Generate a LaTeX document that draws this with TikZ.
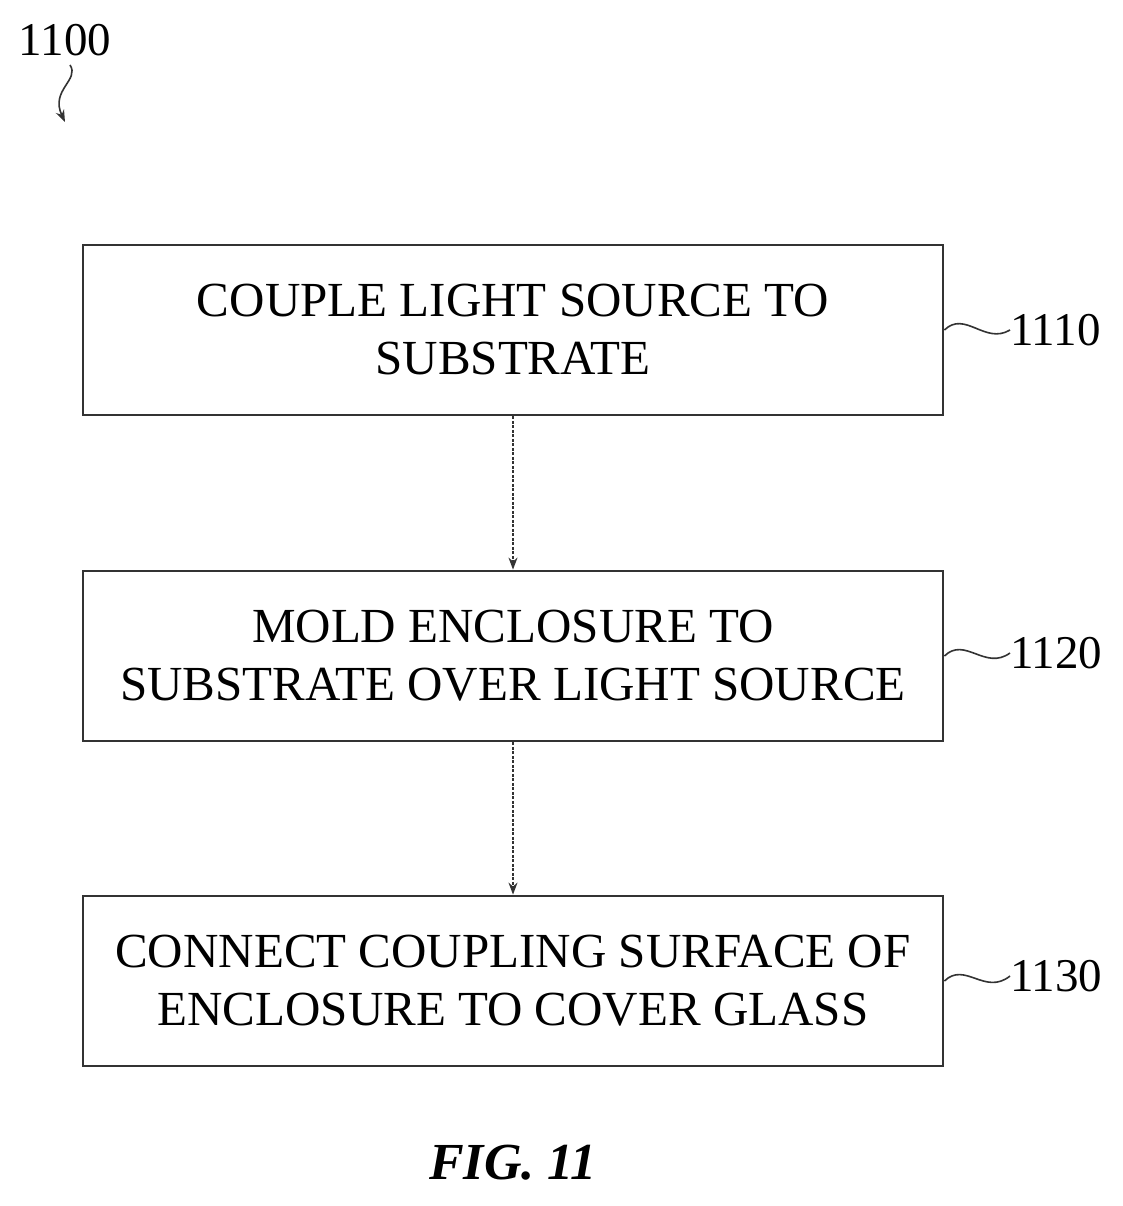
\documentclass[tikz,border=0pt]{standalone}
\usepackage{fontspec}
\setmainfont{Liberation Serif}
\usetikzlibrary{arrows.meta,decorations.pathmorphing}
\begin{document}
\begin{tikzpicture}[x=1pt,y=-1pt,
  stepbox/.style={draw=black!80,line width=2.8pt,minimum width=860pt,minimum height=170pt,inner sep=0pt,align=center,font=\fontsize{49}{58}\selectfont},
  conn/.style={draw=black!80,line width=1.6pt,dashed,dash pattern=on 3pt off 1.5pt,-{Stealth[length=12pt,width=9pt]}},
  lbl/.style={font=\fontsize{47}{50}\selectfont,anchor=west,inner sep=0pt},
  sq/.style={draw=black!80,line width=1.6pt}]
\useasboundingbox (0,0) rectangle (1123,1206);
\node[stepbox] (b1) at (513,330) {COUPLE LIGHT SOURCE TO\\SUBSTRATE};
\node[stepbox] (b2) at (513,656) {MOLD ENCLOSURE TO\\SUBSTRATE OVER LIGHT SOURCE};
\node[stepbox] (b3) at (513,981) {CONNECT COUPLING SURFACE OF\\ENCLOSURE TO COVER GLASS};
\draw[conn] (b1) -- (b2);
\draw[conn] (b2) -- (b3);
\node[lbl] (l1) at (1010,330) {1110};
\node[lbl] (l2) at (1010,653) {1120};
\node[lbl] (l3) at (1010,976) {1130};
\draw[sq] (b1.east) .. controls (965,310) and (985,345) .. (l1.west);
\draw[sq] (b2.east) .. controls (965,636) and (985,671) .. (l2.west);
\draw[sq] (b3.east) .. controls (965,961) and (985,996) .. (l3.west);
\node[font=\fontsize{47}{50}\selectfont,inner sep=0pt] (t) at (65,40) {1100};
\coordinate (e) at (65,122);
\draw[sq,-{Stealth[length=12pt,width=9pt]}] (70,65) .. controls (80,80) and (50,90) .. (e);
\node[font=\fontsize{52}{60}\selectfont\bfseries\itshape] (fig) at (513,1163) {FIG. 11};
\end{tikzpicture}
\end{document}
